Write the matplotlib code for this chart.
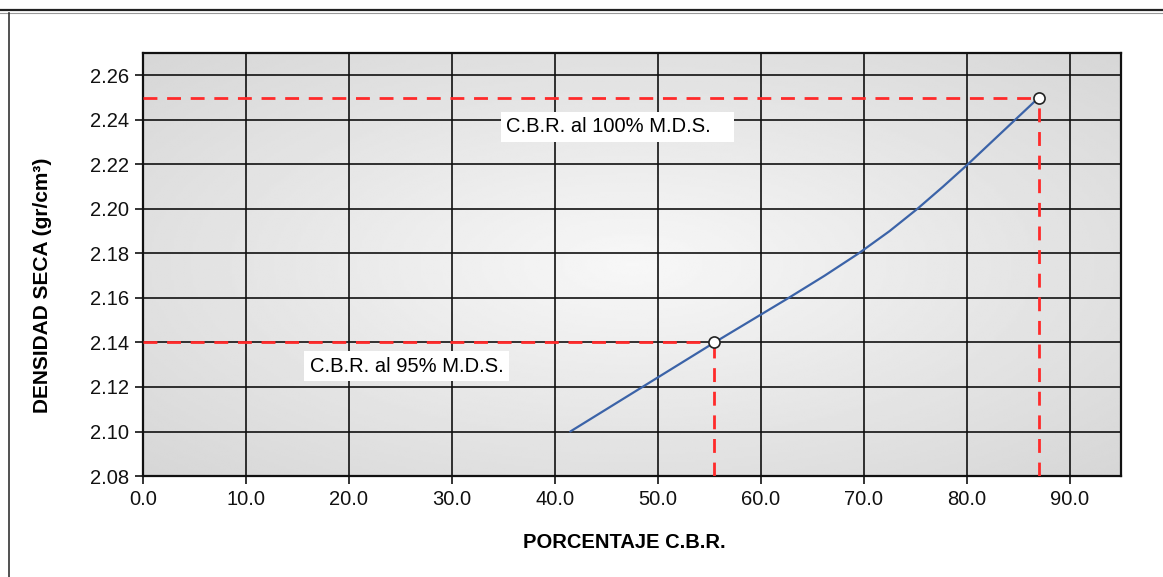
import numpy as np
import matplotlib.pyplot as plt
from matplotlib.lines import Line2D

plt.rcParams['font.family'] = ['Liberation Sans', 'DejaVu Sans']

# CBR curve (percent CBR vs dry density)
cbr = [41.5, 45.0, 48.5, 52.0, 55.5, 59.1, 62.7, 66.2, 69.5, 72.5, 75.2, 77.7, 80.1, 82.4, 84.7, 87.0]
density = [2.100, 2.110, 2.120, 2.130, 2.140, 2.150, 2.160, 2.170, 2.180, 2.190,
           2.200, 2.210, 2.220, 2.230, 2.240, 2.250]

# Reference points at 95% and 100% of max dry density
ref_cbr = [55.5, 87.0]
ref_density = [2.14, 2.25]
ref_labels = ["C.B.R. al 95% M.D.S.", "C.B.R. al 100% M.D.S."]

xticks = [0, 10, 20, 30, 40, 50, 60, 70, 80, 90]
yticks = [2.08, 2.10, 2.12, 2.14, 2.16, 2.18, 2.20, 2.22, 2.24, 2.26]
xlim = (0, 95)
ylim = (2.08, 2.27)

fig = plt.figure(figsize=(11.63, 5.77), dpi=100)

# page frame
fig.add_artist(Line2D([0.0, 1.0], [0.982, 0.982], color='#222222', lw=1.6))
fig.add_artist(Line2D([0.0, 1.0], [0.978, 0.978], color='#999999', lw=0.8))
fig.add_artist(Line2D([0.0079, 0.0079], [0.0, 0.978], color='#333333', lw=1.2))

ax = fig.add_axes([0.123, 0.175, 0.841, 0.733])

# radial gradient plot background
gx, gy = np.meshgrid(np.linspace(-1, 1, 400), np.linspace(-1, 1, 200))
r = np.sqrt(gx ** 2 + gy ** 2) / np.sqrt(2)
shade = 0.97 - 0.13 * r
ax.imshow(shade, cmap='gray', vmin=0, vmax=1, extent=(*xlim, *ylim),
          aspect='auto', origin='lower', zorder=0, interpolation='bilinear')

ax.set_xlim(*xlim)
ax.set_ylim(*ylim)
ax.set_xticks(xticks)
ax.set_yticks(yticks)
ax.set_xticklabels([f"{v:.1f}" for v in xticks])
ax.set_yticklabels([f"{v:.2f}" for v in yticks])
ax.grid(True, color='#111111', lw=1.2, zorder=1)
ax.set_axisbelow(False)
for s in ax.spines.values():
    s.set_linewidth(1.6)
    s.set_color('#111111')
ax.tick_params(axis='both', direction='out', length=6, width=1.2,
               labelsize=14.5, colors='#111111', pad=4)

# dashed guides to the axes
for xc, yc in zip(ref_cbr, ref_density):
    ax.plot([xlim[0], xc], [yc, yc], color='#ff2a2a', lw=2, ls=(0, (5, 3.5)), zorder=3)
    ax.plot([xc, xc], [ylim[0], yc], color='#ff2a2a', lw=2, ls=(0, (5, 3.5)), zorder=3)

ax.plot(cbr, density, color='#3b63a8', lw=1.6, zorder=4, solid_capstyle='round',
        solid_joinstyle='round')
ax.plot(ref_cbr, ref_density, 'o', ms=8, mfc='white', mec='#222222', mew=1.2, zorder=5)

ax.text(16.2, 2.1294, ref_labels[0], fontsize=14.5, ha='left', va='center', zorder=6,
        bbox=dict(facecolor='white', edgecolor='none', pad=4))
ax.text(35.3, 2.2369, ref_labels[1] + "   ", fontsize=14.5, ha='left', va='center', zorder=6,
        bbox=dict(facecolor='white', edgecolor='none', pad=4))

fig.text(624 / 1163, 1 - 542 / 577, "PORCENTAJE C.B.R.", fontsize=14.5,
         fontweight='bold', ha='center', va='center')
fig.text(43 / 1163, 1 - 285 / 577, "DENSIDAD SECA (gr/cm³)", fontsize=15,
         fontweight='bold', ha='center', va='center', rotation=90)

fig.savefig('out.png', dpi=100)
